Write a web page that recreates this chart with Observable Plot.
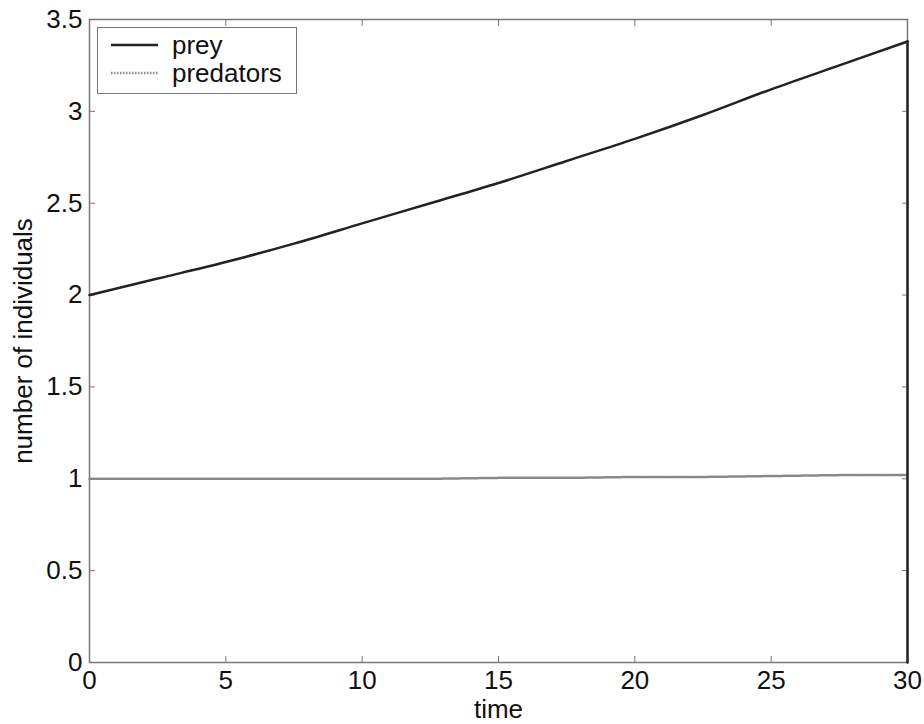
<!DOCTYPE html>
<html><head><meta charset="utf-8">
<script src="https://cdn.jsdelivr.net/npm/d3@7"></script>
<script src="https://cdn.jsdelivr.net/npm/@observablehq/plot@0.6"></script>
<style>
body{margin:0;background:#fff;}
#wrap{position:relative;width:924px;height:724px;font-family:"Liberation Sans",Arial,sans-serif;}
#legend{position:absolute;left:97px;top:27px;width:200px;height:67px;border:1.5px solid #777;background:#fff;box-sizing:border-box;font-size:26px;color:#111;}
#legend .row{position:absolute;left:0;height:28px;display:flex;align-items:center;line-height:28px;}
#legend svg{display:block;}
</style>
</head><body><div id="wrap"></div>
<script>
// Data
const time = [0, 2.5, 5, 7.5, 10, 12.5, 15, 17.5, 20, 22.5, 25, 27.5, 30];
const prey = [2.00, 2.09, 2.18, 2.28, 2.39, 2.50, 2.61, 2.73, 2.85, 2.98, 3.12, 3.25, 3.38];
const predators = [1.00, 1.00, 1.00, 1.00, 1.00, 1.00, 1.005, 1.005, 1.01, 1.01, 1.015, 1.02, 1.02];
const dropTime = 30;   // prey curve falls to zero at the end
const dropValue = 0;
const xTicks = [0, 5, 10, 15, 20, 25, 30];
const yTicks = [0, 0.5, 1, 1.5, 2, 2.5, 3, 3.5];
const seriesNames = ["prey", "predators"];

const preyData = time.map((t, i) => ({t, v: prey[i]}));
const dropData = [{t: dropTime, v: prey[prey.length - 1]}, {t: dropTime, v: dropValue}];
const predData = time.map((t, i) => ({t, v: predators[i]}));

const axisColor = "#777";
const font = '"Liberation Sans", Arial, sans-serif';
const plot = Plot.plot({
  width: 924, height: 724,
  marginLeft: 89, marginRight: 17, marginTop: 19, marginBottom: 62,
  x: {domain: [0, 30]},
  y: {domain: [0, 3.5]},
  style: {fontFamily: font, fontSize: "26px", color: "#111", background: "white", overflow: "visible"},
  marks: [
    Plot.frame({stroke: axisColor, strokeWidth: 1.5}),
    Plot.axisX(xTicks, {anchor: "bottom", tickSize: -6, tickPadding: 14, stroke: axisColor, fill: "#111", fontSize: 26,
      tickFormat: d => String(d), label: "time", labelAnchor: "center", labelArrow: "none", labelOffset: 55}),
    Plot.axisX(xTicks, {anchor: "top", tickSize: -6, stroke: axisColor, tickFormat: () => "", label: null}),
    Plot.axisY(yTicks, {anchor: "left", tickSize: -6, tickPadding: 13, stroke: axisColor, fill: "#111", fontSize: 26,
      tickFormat: d => String(d), label: "number of individuals", labelAnchor: "center", labelArrow: "none", labelOffset: 76}),
    Plot.axisY(yTicks, {anchor: "right", tickSize: -6, stroke: axisColor, tickFormat: () => "", label: null}),
    Plot.line(predData, {x: "t", y: "v", stroke: "#888", strokeWidth: 2.5, strokeDasharray: "1.5,1.5"}),
    Plot.line(preyData, {x: "t", y: "v", stroke: "#222", strokeWidth: 2.5, curve: "monotone-x"}),
    Plot.line(dropData, {x: "t", y: "v", stroke: "#222", strokeWidth: 2.5})
  ]
});
const wrap = document.getElementById("wrap");
wrap.appendChild(plot);

// Legend
const legend = document.createElement("div");
legend.id = "legend";
const styles = [{stroke: "#222", dash: null, w: 2.5}, {stroke: "#888", dash: "1.5,1.5", w: 2.5}];
seriesNames.forEach((name, i) => {
  const row = document.createElement("div");
  row.className = "row";
  row.style.top = (3 + i * 28) + "px";
  row.innerHTML = `<svg width="74" height="28"><line x1="13" x2="60" y1="14" y2="14" stroke="${styles[i].stroke}" stroke-width="${styles[i].w}" ${styles[i].dash ? `stroke-dasharray="${styles[i].dash}"` : ""}/></svg><span>${name}</span>`;
  legend.appendChild(row);
});
wrap.appendChild(legend);
</script>
</body></html>
